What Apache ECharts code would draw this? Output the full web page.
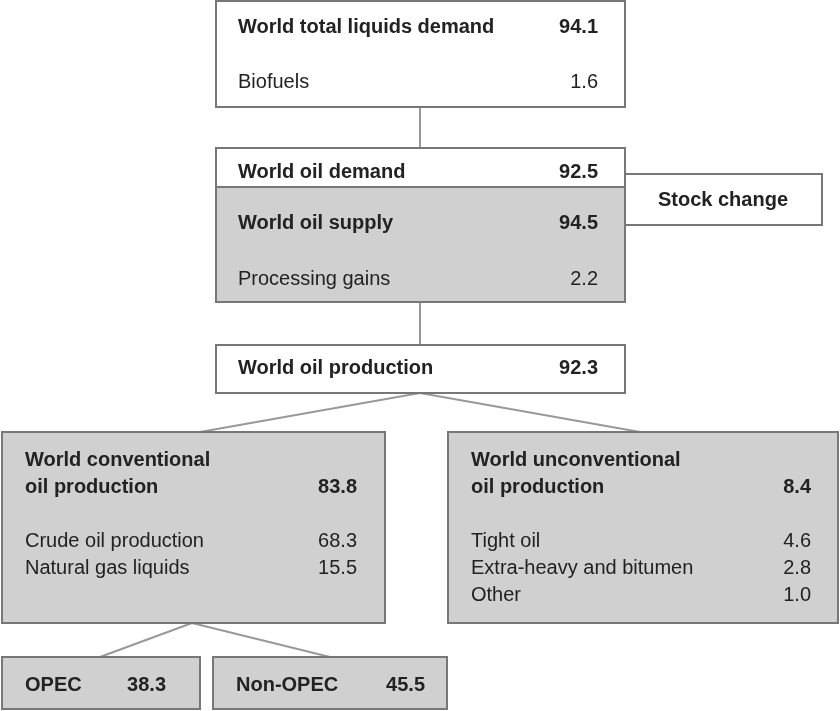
<!DOCTYPE html>
<html>
<head>
<meta charset="utf-8">
<script src="https://cdn.jsdelivr.net/npm/echarts@6/dist/echarts.min.js"></script>
<style>html,body{margin:0;padding:0;background:#fff}#main{width:840px;height:711px}</style>
</head>
<body>
<div id="main"></div>
<script>
// 数据
var demandLabels = ['World total liquids demand', 'Biofuels'];
var demandValues = ['94.1', '1.6'];
var supplyLabels = ['World oil demand', 'World oil supply', 'Processing gains'];
var supplyValues = ['92.5', '94.5', '2.2'];
var productionLabel = 'World oil production';
var productionValue = '92.3';
var convLabels = ['Crude oil production', 'Natural gas liquids'];
var convValues = ['68.3', '15.5'];
var convTotal = '83.8';
var unconvLabels = ['Tight oil', 'Extra-heavy and bitumen', 'Other'];
var unconvValues = ['4.6', '2.8', '1.0'];
var unconvTotal = '8.4';
var opecLabels = ['OPEC', 'Non-OPEC'];
var opecValues = ['38.3', '45.5'];

var GRAY = '#d0d0d0', EDGE = '#777', FONT = '"Liberation Sans", Arial, sans-serif';
var els = [];
function box(x, y, w, h, fill) {
    els.push({type: 'rect', shape: {x: x, y: y, width: w, height: h},
        style: {fill: fill, stroke: EDGE, lineWidth: 2}});
}
function line(x1, y1, x2, y2) {
    els.push({type: 'line', shape: {x1: x1, y1: y1, x2: x2, y2: y2},
        style: {stroke: '#999', lineWidth: 2}, z: -1});
}
function txt(x, y, s, bold, align) {
    els.push({type: 'text', x: x, y: y, z: 10, style: {text: s, fill: '#222',
        font: (bold ? 'bold ' : '') + '20px ' + FONT,
        textAlign: align || 'left', textVerticalAlign: 'middle'}});
}

// 连接线
line(420, 107, 420, 148);
line(420, 302, 420, 345);
line(420, 393, 200, 432);
line(420, 393, 640, 432);
line(192, 623, 100, 657);
line(192, 623, 330, 657);

// 顶部需求
box(216, 1, 409, 106, '#fff');
txt(238, 27, demandLabels[0], true); txt(598, 27, demandValues[0], true, 'right');
txt(238, 82, demandLabels[1]); txt(598, 82, demandValues[1], false, 'right');

// 需求/供给
box(216, 148, 409, 39, '#fff');
txt(238, 172, supplyLabels[0], true); txt(598, 172, supplyValues[0], true, 'right');
box(216, 187, 409, 115, GRAY);
txt(238, 223, supplyLabels[1], true); txt(598, 223, supplyValues[1], true, 'right');
txt(238, 279, supplyLabels[2]); txt(598, 279, supplyValues[2], false, 'right');
box(625, 174, 197, 51, '#fff');
txt(723, 200, 'Stock change', true, 'center');

// 产量
box(216, 345, 409, 48, '#fff');
txt(238, 368, productionLabel, true); txt(598, 368, productionValue, true, 'right');

// 常规
box(2, 432, 383, 191, GRAY);
txt(25, 460, 'World conventional', true);
txt(25, 487, 'oil production', true); txt(357, 487, convTotal, true, 'right');
convLabels.forEach(function (l, i) {
    txt(25, 541 + i * 27, l); txt(357, 541 + i * 27, convValues[i], false, 'right');
});

// 非常规
box(448, 432, 390, 191, GRAY);
txt(471, 460, 'World unconventional', true);
txt(471, 487, 'oil production', true); txt(811, 487, unconvTotal, true, 'right');
unconvLabels.forEach(function (l, i) {
    txt(471, 541 + i * 27, l); txt(811, 541 + i * 27, unconvValues[i], false, 'right');
});

// OPEC
box(2, 657, 198, 52, GRAY);
txt(25, 685, opecLabels[0], true); txt(166, 685, opecValues[0], true, 'right');
box(213, 657, 234, 52, GRAY);
txt(236, 685, opecLabels[1], true); txt(425, 685, opecValues[1], true, 'right');

var myChart = echarts.init(document.getElementById('main'));
myChart.setOption({backgroundColor: '#fff', graphic: {elements: els}});
</script>
</body>
</html>
